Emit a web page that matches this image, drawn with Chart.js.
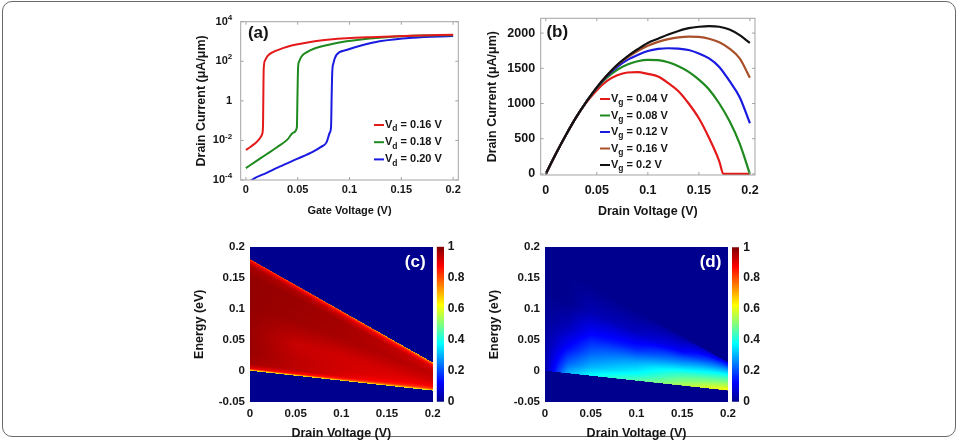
<!DOCTYPE html>
<html>
<head>
<meta charset="utf-8">
<script src="https://cdn.jsdelivr.net/npm/chart.js@4.4.1/dist/chart.umd.min.js"></script>
<style>
  html, body { margin: 0; padding: 0; background: #fff; overflow: hidden; }
  #wrap { position: relative; width: 959px; height: 440px; }
  #frame { position: absolute; left: 2px; top: 1px; width: 954px; height: 436px; box-sizing: border-box;
           border: 1.5px solid #6a6a6a; border-radius: 10px; }
  canvas { position: absolute; }
</style>
</head>
<body>
<div id="wrap">
  <div id="frame"></div>
  <canvas id="chartA" width="285" height="218" style="left:190px;top:0px"></canvas>
  <canvas id="chartB" width="286" height="220" style="left:485px;top:0px"></canvas>
  <canvas id="chartC" width="257" height="211" style="left:192px;top:230px"></canvas>
  <canvas id="barC" width="40" height="211" style="left:436px;top:230px"></canvas>
  <canvas id="chartD" width="257" height="211" style="left:487px;top:230px"></canvas>
  <canvas id="barD" width="40" height="211" style="left:731px;top:230px"></canvas>
</div>
<script>
// ---------- (a) transfer curves, log scale ----------
const vgRed = [0, 0.004, 0.008, 0.011, 0.014, 0.0158, 0.0165, 0.0172, 0.0185, 0.021, 0.0267, 0.0326, 0.04, 0.0487, 0.065, 0.081, 0.097, 0.12, 0.16, 0.2];
const idRed = [3.3e-3, 4.5e-3, 6.5e-3, 9e-3, 1.4e-2, 2.2e-2, 5e-2, 40, 110, 190, 300, 400, 540, 700, 1000, 1250, 1450, 1650, 1950, 2200];
const vgGreen = [0, 0.01, 0.02, 0.03, 0.04, 0.046, 0.0492, 0.0498, 0.0504, 0.0515, 0.0535, 0.0594, 0.065, 0.081, 0.097, 0.129, 0.161, 0.2];
const idGreen = [4e-4, 9e-4, 2e-3, 4.5e-3, 1.1e-2, 2.5e-2, 4.5e-2, 2, 50, 100, 170, 300, 420, 710, 1020, 1550, 1950, 2090];
const vgBlue = [0, 0.0057, 0.02, 0.0325, 0.05, 0.0649, 0.0725, 0.0778, 0.081, 0.0822, 0.0828, 0.0834, 0.0845, 0.0874, 0.097, 0.113, 0.129, 0.161, 0.2];
const idBlue = [5e-5, 1e-4, 2.3e-4, 4.7e-4, 1.2e-3, 2.7e-3, 4.7e-3, 8e-3, 2.5e-2, 5e-2, 2, 32, 80, 210, 370, 660, 1020, 1550, 1900];
const vdLabels = ['0.16', '0.18', '0.20'];
const aTickVals = [1e-4, 1e-2, 1, 1e2, 1e4];
const aTickBase = ['10', '10', '1', '10', '10'];
const aTickExp = ['-4', '-2', '', '2', '4'];

// ---------- (b) output curves ----------
const vdB = [0, 0.01, 0.02, 0.03, 0.04, 0.05, 0.06, 0.07, 0.08, 0.09, 0.1, 0.11, 0.12, 0.13, 0.14, 0.15, 0.16, 0.17, 0.18, 0.19, 0.2];
const vdRedB = [0, 0.01, 0.02, 0.03, 0.04, 0.05, 0.06, 0.07, 0.08, 0.09, 0.1, 0.11, 0.12, 0.13, 0.14, 0.15, 0.16, 0.17, 0.174, 0.18, 0.19, 0.2];
const idVg004 = [0, 290, 560, 810, 1020, 1190, 1320, 1400, 1440, 1445, 1420, 1385, 1290, 1175, 1000, 790, 510, 180, 0, 0, 0, 0];
const idVg008 = [0, 290, 560, 810, 1030, 1220, 1370, 1480, 1555, 1600, 1620, 1615, 1585, 1530, 1450, 1340, 1200, 1000, 750, 430, 0];
const idVg012 = [0, 290, 560, 810, 1030, 1225, 1390, 1520, 1620, 1690, 1745, 1775, 1785, 1780, 1760, 1710, 1640, 1520, 1320, 1090, 720];
const idVg016 = [0, 290, 560, 810, 1030, 1230, 1400, 1545, 1655, 1745, 1820, 1875, 1915, 1940, 1950, 1945, 1920, 1870, 1780, 1640, 1365];
const idVg020 = [0, 290, 560, 810, 1030, 1230, 1400, 1550, 1670, 1770, 1860, 1920, 1980, 2030, 2070, 2090, 2100, 2090, 2050, 1970, 1860];
const vgLabels = ['0.04', '0.08', '0.12', '0.16', '0.2'];
const bTickVals = [0, 500, 1000, 1500, 2000];

// ---------- (c), (d) energy maps ----------
const vTicks = [0, 0.05, 0.1, 0.15, 0.2];
const eTicks = [-0.05, 0, 0.05, 0.1, 0.15, 0.2];
const cbTicks = [0, 0.2, 0.4, 0.6, 0.8, 1];
const edgeVd = [0, 0.2];
const edgeTop = [0.18, 0.0135];
const edgeBottom = [0, -0.032];
// values across the window, t = 0 at lower edge, t = 1 at upper edge
const cCols = [0, 0.05, 0.1, 0.15, 0.2];
const cRows = [0, 0.02, 0.06, 0.15, 0.35, 0.6, 0.85, 0.94, 0.98, 1];
const cField = [
  [0.62, 0.62, 0.62, 0.6, 0.55],
  [0.9, 0.87, 0.82, 0.75, 0.68],
  [0.96, 0.94, 0.91, 0.86, 0.8],
  [0.975, 0.94, 0.92, 0.9, 0.88],
  [0.975, 0.93, 0.92, 0.92, 0.92],
  [0.98, 0.97, 0.96, 0.95, 0.94],
  [0.98, 0.975, 0.965, 0.94, 0.91],
  [0.96, 0.95, 0.92, 0.88, 0.82],
  [0.9, 0.88, 0.84, 0.8, 0.75],
  [0.8, 0.78, 0.74, 0.7, 0.65]
];
const dCols = [0, 0.025, 0.05, 0.1, 0.15, 0.2];
const dRows = [0, 0.1, 0.25, 0.45, 0.7, 1];
const dField = [
  [0.03, 0.3, 0.38, 0.46, 0.55, 0.63],
  [0.03, 0.22, 0.3, 0.38, 0.5, 0.59],
  [0.02, 0.13, 0.22, 0.3, 0.42, 0.52],
  [0.01, 0.05, 0.13, 0.16, 0.28, 0.44],
  [0, 0, 0.04, 0.05, 0.12, 0.3],
  [0, 0, 0, 0, 0.02, 0.1]
];

const jetStops = [0, 0.125, 0.375, 0.625, 0.875, 1];
const jetRGB = [[0, 0, 143], [0, 0, 255], [0, 255, 255], [255, 255, 0], [255, 0, 0], [128, 0, 0]];

const FONT = "'Liberation Sans', Arial, sans-serif";
const INK = '#151515';

function lerpAt(xs, ys, x) {
  if (x <= xs[0]) return ys[0];
  for (let i = 1; i < xs.length; i++) {
    if (x <= xs[i]) {
      const f = (x - xs[i - 1]) / (xs[i] - xs[i - 1]);
      return ys[i - 1] + (ys[i] - ys[i - 1]) * f;
    }
  }
  return ys[ys.length - 1];
}

function jet(v) {
  v = Math.max(0, Math.min(1, v));
  let i = 0;
  while (i < jetStops.length - 2 && v > jetStops[i + 1]) i++;
  const f = (v - jetStops[i]) / (jetStops[i + 1] - jetStops[i]);
  return jetRGB[i].map((c, k) => Math.round(c + (jetRGB[i + 1][k] - c) * f));
}

function pts(xs, ys) { return xs.map((x, i) => ({ x: x, y: ys[i] })); }

// box + inward tick marks
function framePlugin(color) {
  return {
    id: 'frame',
    afterDatasetsDraw(chart) {
      const { ctx, chartArea: a, scales: { x, y } } = chart;
      ctx.save();
      ctx.strokeStyle = color;
      ctx.lineWidth = 1;
      ctx.strokeRect(a.left, a.top, a.right - a.left, a.bottom - a.top);
      ctx.beginPath();
      x.ticks.forEach(t => {
        const p = x.getPixelForValue(t.value);
        ctx.moveTo(p, a.bottom); ctx.lineTo(p, a.bottom - 3);
        ctx.moveTo(p, a.top); ctx.lineTo(p, a.top + 3);
      });
      y.ticks.forEach(t => {
        const p = y.getPixelForValue(t.value);
        ctx.moveTo(a.left, p); ctx.lineTo(a.left + 3, p);
        ctx.moveTo(a.right, p); ctx.lineTo(a.right - 3, p);
      });
      ctx.stroke();
      ctx.restore();
    }
  };
}

// 10 with raised exponent for the log axis
function powLabels(gap) {
  return {
    id: 'powLabels',
    afterDraw(chart) {
      const { ctx, chartArea: a, scales: { y } } = chart;
      ctx.save();
      ctx.fillStyle = INK;
      ctx.textAlign = 'right';
      ctx.textBaseline = 'middle';
      aTickVals.forEach((v, i) => {
        const p = y.getPixelForValue(v);
        let x = a.left - gap;
        if (aTickExp[i]) {
          ctx.font = 'bold 8px ' + FONT;
          ctx.fillText(aTickExp[i], x, p - 4);
          x -= ctx.measureText(aTickExp[i]).width;
        }
        ctx.font = 'bold 11px ' + FONT;
        ctx.fillText(aTickBase[i], x, p);
      });
      ctx.restore();
    }
  };
}

function tagPlugin(text, dx, dy, fromRight, color) {
  return {
    id: 'tag',
    afterDatasetsDraw(chart) {
      const { ctx, chartArea: a } = chart;
      ctx.save();
      ctx.font = 'bold 17px ' + FONT;
      ctx.fillStyle = color;
      ctx.textAlign = 'center';
      ctx.textBaseline = 'middle';
      ctx.fillText(text, (fromRight ? a.right : a.left) + dx, a.top + dy);
      ctx.restore();
    }
  };
}

// legend with subscripted V
function subLegend(items, sub, x0, y0, dy) {
  return {
    id: 'subLegend',
    afterDatasetsDraw(chart) {
      const { ctx, chartArea: a } = chart;
      ctx.save();
      ctx.textBaseline = 'middle';
      items.forEach((it, i) => {
        const x = a.left + x0, y = a.top + y0 + i * dy;
        ctx.strokeStyle = it.color;
        ctx.lineWidth = 2;
        ctx.beginPath(); ctx.moveTo(x, y); ctx.lineTo(x + 10, y); ctx.stroke();
        ctx.fillStyle = INK;
        ctx.font = 'bold 11px ' + FONT;
        ctx.fillText('V', x + 11, y);
        let w = ctx.measureText('V').width;
        ctx.font = 'bold 8.5px ' + FONT;
        ctx.fillText(sub, x + 11 + w, y + 4);
        w += ctx.measureText(sub).width;
        ctx.font = 'bold 11px ' + FONT;
        ctx.fillText(' = ' + it.label + ' V', x + 11 + w, y);
      });
      ctx.restore();
    }
  };
}

// paints the map pixel by pixel through the chart scales
function heatmapPlugin(cols, rows, field) {
  return {
    id: 'heatmap',
    beforeDatasetsDraw(chart) {
      const { ctx, chartArea: a, scales: { x, y } } = chart;
      const s = 2;
      const w = Math.ceil((a.right - a.left) * s), h = Math.ceil((a.bottom - a.top) * s);
      const off = document.createElement('canvas');
      off.width = w; off.height = h;
      const octx = off.getContext('2d');
      const img = octx.createImageData(w, h);
      for (let i = 0; i < w; i++) {
        const vd = x.getValueForPixel(a.left + (i + 0.5) / s);
        const lo = lerpAt(edgeVd, edgeBottom, vd), hi = lerpAt(edgeVd, edgeTop, vd);
        const col = rows.map((_, r) => lerpAt(cols, field[r], vd));
        for (let j = 0; j < h; j++) {
          const e = y.getValueForPixel(a.top + (j + 0.5) / s);
          let v = 0;
          if (e >= lo && e <= hi) v = lerpAt(rows, col, (e - lo) / (hi - lo));
          const c = jet(v), k = (j * w + i) * 4;
          img.data[k] = c[0]; img.data[k + 1] = c[1]; img.data[k + 2] = c[2]; img.data[k + 3] = 255;
        }
      }
      octx.putImageData(img, 0, 0);
      ctx.save();
      ctx.imageSmoothingEnabled = true;
      ctx.drawImage(off, a.left, a.top, a.right - a.left, a.bottom - a.top);
      ctx.restore();
    }
  };
}

function fixTicks(vals) { return s => { s.ticks = vals.map(v => ({ value: v })); }; }
function font(size) { return { family: FONT, size: size, weight: 'bold' }; }

const noGrid = { display: false, drawTicks: false };
const noAxisLines = { display: false };

// ============================
// (a)
// ============================
const aColors = ['#e41a1a', '#1f8a1f', '#1a1ae0'];
new Chart(document.getElementById('chartA'), {
  type: 'line',
  data: {
    datasets: [
      { data: pts(vgRed, idRed), borderColor: aColors[0] },
      { data: pts(vgGreen, idGreen), borderColor: aColors[1] },
      { data: pts(vgBlue, idBlue), borderColor: aColors[2] }
    ]
  },
  options: {
    responsive: false,
    animation: false,
    layout: { padding: { top: 21.7, right: 16.7, left: 0, bottom: 0 } },
    plugins: { legend: { display: false }, tooltip: { enabled: false } },
    elements: {
      point: { radius: 0 },
      line: { borderWidth: 2, cubicInterpolationMode: 'monotone', fill: false }
    },
    datasets: { line: { clip: 0 } },
    scales: {
      x: {
        type: 'linear', min: -0.005, max: 0.205,
        afterBuildTicks: fixTicks(vTicks),
        afterFit: s => { s.height = 38; },
        grid: noGrid, border: noAxisLines,
        ticks: { font: font(11), color: INK, padding: 3.4, maxRotation: 0, callback: v => String(v) },
        title: { display: true, text: 'Gate Voltage (V)', font: font(11), color: INK, padding: { top: 0, bottom: 0 } }
      },
      y: {
        type: 'logarithmic', min: 1e-4, max: 1e4,
        afterBuildTicks: fixTicks(aTickVals),
        afterFit: s => { s.width = 50.7; },
        grid: noGrid, border: noAxisLines,
        ticks: { display: false },
        title: { display: true, text: 'Drain Current (\u03BCA/\u03BCm)', font: font(12.5), color: INK, padding: { top: 4, bottom: 0 } }
      }
    }
  },
  plugins: [
    framePlugin('#a3a3a3'),
    powLabels(8.5),
    tagPlugin('(a)', 17.6, 11.6, false, INK),
    subLegend(vdLabels.map((l, i) => ({ label: l, color: aColors[i] })), 'd', 133.3, 103.3, 17.2)
  ]
});

// ============================
// (b)
// ============================
const bColors = ['#e41a1a', '#1f8a1f', '#1a1ae0', '#a8502a', '#111111'];
const bSeries = [idVg004, idVg008, idVg012, idVg016, idVg020];
new Chart(document.getElementById('chartB'), {
  type: 'line',
  data: {
    datasets: bSeries.map((ys, i) => ({
      data: pts(i === 0 ? vdRedB : vdB, ys),
      borderColor: bColors[i],
      order: bSeries.length - 1 - i
    }))
  },
  options: {
    responsive: false,
    animation: false,
    layout: { padding: { top: 18.3, right: 16, left: 0, bottom: 0 } },
    plugins: { legend: { display: false }, tooltip: { enabled: false } },
    elements: {
      point: { radius: 0 },
      line: { borderWidth: 2.2, cubicInterpolationMode: 'monotone', fill: false }
    },
    scales: {
      x: {
        type: 'linear', min: -0.005, max: 0.205,
        afterBuildTicks: fixTicks(vTicks),
        afterFit: s => { s.height = 45; },
        grid: noGrid, border: noAxisLines,
        ticks: { font: font(12.5), color: INK, padding: 8.2, maxRotation: 0, callback: v => String(v) },
        title: { display: true, text: 'Drain Voltage (V)', font: font(12.5), color: INK, padding: { top: 0, bottom: 0.8 } }
      },
      y: {
        type: 'linear', min: -15, max: 2210,
        afterBuildTicks: fixTicks(bTickVals),
        afterFit: s => { s.width = 55.7; },
        grid: noGrid, border: noAxisLines,
        ticks: { font: font(12.5), color: INK, padding: 5.6, callback: v => String(v) },
        title: { display: true, text: 'Drain Current (\u03BCA/\u03BCm)', font: font(12.5), color: INK, padding: { top: 0.5, bottom: 0 } }
      }
    }
  },
  plugins: [
    framePlugin('#a3a3a3'),
    tagPlugin('(b)', 16.6, 14, false, INK),
    subLegend(vgLabels.map((l, i) => ({ label: l, color: bColors[i] })), 'g', 59.3, 80.7, 16.5)
  ]
});

// ============================
// (c), (d) maps + colour bars
// ============================
function mapChart(id, top, right, cols, rows, field, tag, tagDy, tickPad) {
  new Chart(document.getElementById(id), {
    type: 'scatter',
    data: { datasets: [] },
    options: {
      responsive: false,
      animation: false,
      layout: { padding: { top: top, right: right, left: 0, bottom: 0 } },
      plugins: { legend: { display: false }, tooltip: { enabled: false } },
      scales: {
        x: {
          type: 'linear', min: 0, max: 0.2,
          afterBuildTicks: fixTicks(vTicks),
          afterFit: s => { s.height = 211 - (401.7 - 230); },
          grid: noGrid, border: noAxisLines,
          ticks: { font: font(11.5), color: INK, padding: tickPad, maxRotation: 0, callback: v => String(v) },
          title: { display: true, text: 'Drain Voltage (V)', font: font(12.5), color: INK, padding: { top: 0, bottom: 0.2 } }
        },
        y: {
          type: 'linear', min: -0.05, max: 0.2,
          afterBuildTicks: fixTicks(eTicks),
          afterFit: s => { s.width = 58; },
          grid: noGrid, border: noAxisLines,
          ticks: { font: font(11.5), color: INK, padding: 5, callback: v => String(v) },
          title: { display: true, text: 'Energy (eV)', font: font(12.5), color: INK, padding: { top: 0.5, bottom: 0 } }
        }
      }
    },
    plugins: [heatmapPlugin(cols, rows, field), tagPlugin(tag, -17.5, tagDy, true, '#ffffff')]
  });
}

function colorBar(id, padLeft, top, tickPad) {
  new Chart(document.getElementById(id), {
    type: 'bar',
    data: {
      labels: [''],
      datasets: [{
        data: [1],
        borderWidth: 0,
        barPercentage: 1,
        categoryPercentage: 1,
        backgroundColor: c => {
          const a = c.chart.chartArea;
          if (!a) return 'rgb(0,0,143)';
          const g = c.chart.ctx.createLinearGradient(0, a.bottom, 0, a.top);
          jetStops.forEach((s, i) => g.addColorStop(s, 'rgb(' + jetRGB[i].join(',') + ')'));
          return g;
        }
      }]
    },
    options: {
      responsive: false,
      animation: false,
      layout: { padding: { left: padLeft, top: top, bottom: 211 - (401.7 - 230), right: 0 } },
      plugins: { legend: { display: false }, tooltip: { enabled: false } },
      scales: {
        x: { display: false },
        y: {
          position: 'right', min: 0, max: 1,
          afterBuildTicks: fixTicks(cbTicks),
          afterFit: s => { s.width = 32; },
          grid: noGrid, border: noAxisLines,
          ticks: { font: font(12), color: INK, padding: tickPad, callback: v => String(v) }
        }
      }
    }
  });
}

mapChart('chartC', 16.7, 16.3, cCols, cRows, cField, '(c)', 16, 5.4);
colorBar('barC', 0.7, 16.7, 3.7);
mapChart('chartD', 17.3, 16, dCols, dRows, dField, '(d)', 15.4, 5.6);
colorBar('barD', 1, 17.3, 4.3);
</script>
</body>
</html>
